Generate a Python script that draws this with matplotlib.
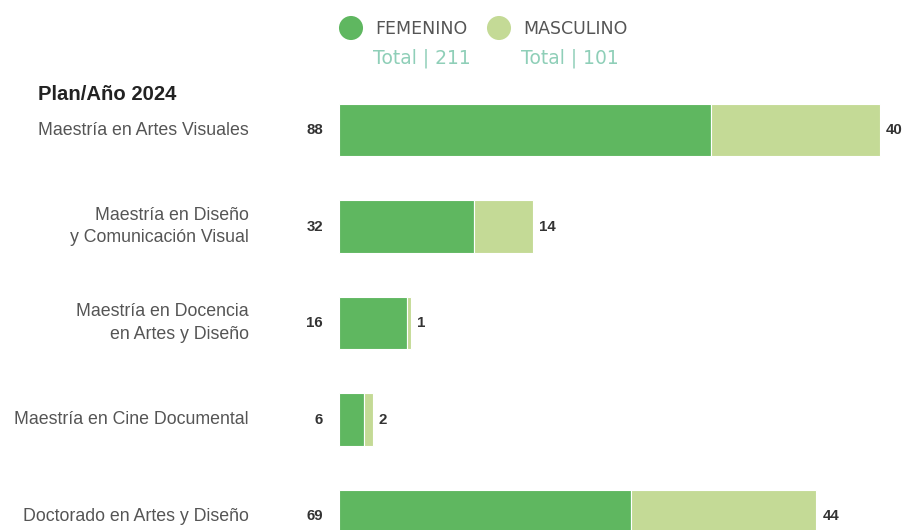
import matplotlib.pyplot as plt

plt.rcParams['font.family'] = ['Liberation Sans', 'DejaVu Sans']

# Data
programas = [
    'Maestría en Artes Visuales',
    'Maestría en Diseño\ny Comunicación Visual',
    'Maestría en Docencia\nen Artes y Diseño',
    'Maestría en Cine Documental',
    'Doctorado en Artes y Diseño',
]
femenino = [88, 32, 16, 6, 69]
masculino = [40, 14, 1, 2, 44]
total_fem = 211
total_masc = 101

col_fem = '#5fb760'
col_masc = '#c4da96'
col_total = '#8fcfb8'

W, H = 908, 530
fig = plt.figure(figsize=(W / 100, H / 100), dpi=100)
ax = fig.add_axes([0, 0, 1, 1])

# pixel mapping: value 0 at x=339px, 4.225 px per unit; rows start at y=130px, 96.5 px apart
px_unit = 4.225
x0 = 339
row0, row_h = 130, 96.5
ax.set_xlim(-x0 / px_unit, (W - x0) / px_unit)
ax.set_ylim((H - row0) / row_h, -row0 / row_h)
ax.axis('off')


def px(x):
    return (x - x0) / px_unit


def py(y):
    return (y - row0) / row_h


ys = list(range(len(programas)))
ax.barh(ys, femenino, height=0.54, color=col_fem, edgecolor='white', linewidth=0.8)
ax.barh(ys, masculino, left=femenino, height=0.54, color=col_masc, edgecolor='white', linewidth=0.8)

for y, name, f, m in zip(ys, programas, femenino, masculino):
    ax.text(px(249), y, name, ha='right', va='center', fontsize=12.8, color='#555555',
            linespacing=1.45)
    ax.text(-16 / px_unit, y, str(f), ha='right', va='center', fontsize=10.8,
            fontweight='bold', color='#333333')
    ax.text(f + m + 6 / px_unit, y, str(m), ha='left', va='center', fontsize=10.8,
            fontweight='bold', color='#333333')

# title
ax.text(px(38), py(94), 'Plan/Año 2024', ha='left', va='center', fontsize=14.6,
        fontweight='bold', color='#222222')

# legend
for cx, lab, tot, col in [(351, 'FEMENINO', total_fem, col_fem),
                          (499, 'MASCULINO', total_masc, col_masc)]:
    ax.scatter([px(cx)], [py(28)], s=300, color=col, edgecolors='none', clip_on=False)
    ax.text(px(cx + 24), py(29), lab, ha='left', va='center', fontsize=12.5,
            family='DejaVu Sans', color='#555555')
ax.text(px(373), py(58), f'Total | {total_fem}', ha='left', va='center',
        fontsize=13.5, family='DejaVu Sans', color=col_total)
ax.text(px(521), py(58), f'Total | {total_masc}', ha='left', va='center',
        fontsize=13.5, family='DejaVu Sans', color=col_total)

fig.savefig('out.png', dpi=100)
